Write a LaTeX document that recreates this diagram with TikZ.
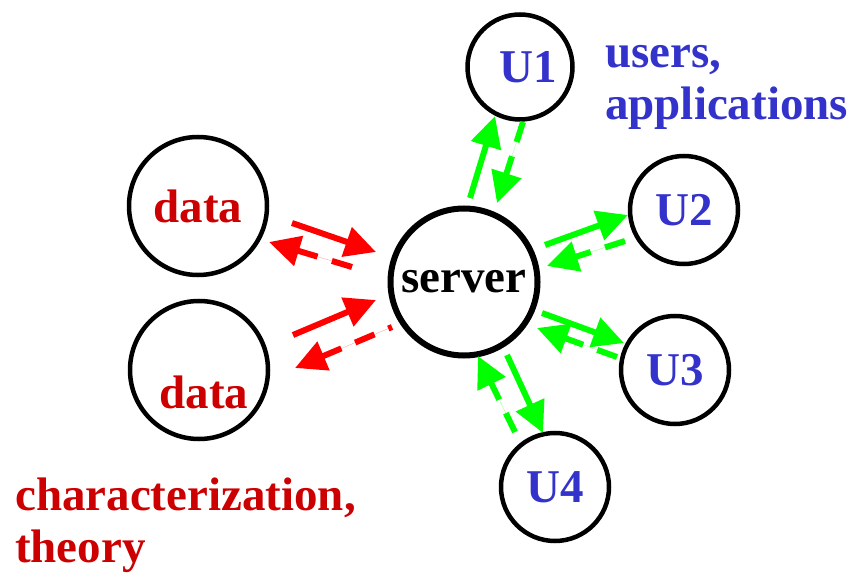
\documentclass[tikz,border=0pt]{standalone}
\usepackage{fontspec}
\setmainfont{Liberation Serif}
\usetikzlibrary{arrows.meta,calc}
\definecolor{txtred}{HTML}{CC0000}
\definecolor{txtblue}{HTML}{3333CC}
\definecolor{arrred}{HTML}{FF0000}
\definecolor{arrgreen}{HTML}{00FF00}
\begin{document}
\begin{tikzpicture}[x=1pt,y=-1pt,
  bigfont/.style={font=\fontsize{47}{52}\selectfont\bfseries},
  ring/.style={circle,draw=black,line width=4.5pt,inner sep=0pt,bigfont},
  datanode/.style={ring,minimum size=138pt,text=txtred},
  usernode/.style={ring,minimum size=108pt,text=txtblue},
  link/.style={line width=6pt,-{Triangle[length=31pt,width=30pt]}},
  dashlink/.style={link,dash pattern=on 21pt off 15pt},
  redlink/.style={link,draw=arrred,fill=arrred},
  reddash/.style={dashlink,draw=arrred,fill=arrred},
  greenlink/.style={link,draw=arrgreen,fill=arrgreen},
  greendash/.style={dashlink,draw=arrgreen,fill=arrgreen}]
\useasboundingbox (0,0) rectangle (854,577);

% circles
\node[datanode] (d1) at (198,206) {data};
\node[datanode] (d2) at (199,370) {};
\node[bigfont,text=txtred,inner sep=0pt] (d2t) at ($(d2)+(5,22)$) {data};
\node[ring,line width=6pt,minimum size=147pt] (srv) at (464,282) {server};
\node[usernode,minimum size=105pt] (u1) at (520,67) {\hspace{16pt}U1};
\node[usernode] (u2) at (684,210) {U2};
\node[usernode] (u3) at (675,370) {U3};
\node[usernode] (u4) at (555,487) {U4};

% captions (anchored on the baseline of their last line)
\node[bigfont,text=txtblue,align=left,anchor=base west,inner sep=0pt] (cap1) at (605,120) {users,\\applications};
\node[bigfont,text=txtred,align=left,anchor=base west,inner sep=0pt] (cap2) at (15,562) {characterization,\\theory};

% arrow end points
\coordinate (r1a) at (292,223); \coordinate (r1b) at (376,252);
\coordinate (r1c) at (352,267); \coordinate (r1d) at (269,242);
\coordinate (r2a) at (293,335); \coordinate (r2b) at (376,300);
\coordinate (r2c) at (392,327); \coordinate (r2d) at (295,368);
\coordinate (g1a) at (470,198); \coordinate (g1b) at (495,116);
\coordinate (g1c) at (523,122); \coordinate (g1d) at (497,203);
\coordinate (g2a) at (545,245); \coordinate (g2b) at (628,215);
\coordinate (g2c) at (625,241); \coordinate (g2d) at (547,266);
\coordinate (g3a) at (542,313); \coordinate (g3b) at (624,343);
\coordinate (g3c) at (617,357); \coordinate (g3d) at (537,328);
\coordinate (g4a) at (507,355); \coordinate (g4b) at (543,433);
\coordinate (g4c) at (515,432); \coordinate (g4d) at (478,356);

% data <-> server
\draw[redlink] (r1a) -- (r1b);
\draw[reddash] (r1c) -- (r1d);
\draw[redlink] (r2a) -- (r2b);
\draw[reddash,dash phase=17pt] (r2c) -- (r2d);

% server <-> users
\draw[greenlink] (g1a) -- (g1b);
\draw[greendash] (g1c) -- (g1d);
\draw[greenlink] (g2a) -- (g2b);
\draw[greendash] (g2c) -- (g2d);
\draw[greenlink] (g3a) -- (g3b);
\draw[greendash] (g3c) -- (g3d);
\draw[greenlink] (g4a) -- (g4b);
\draw[greendash] (g4c) -- (g4d);
\end{tikzpicture}
\end{document}
